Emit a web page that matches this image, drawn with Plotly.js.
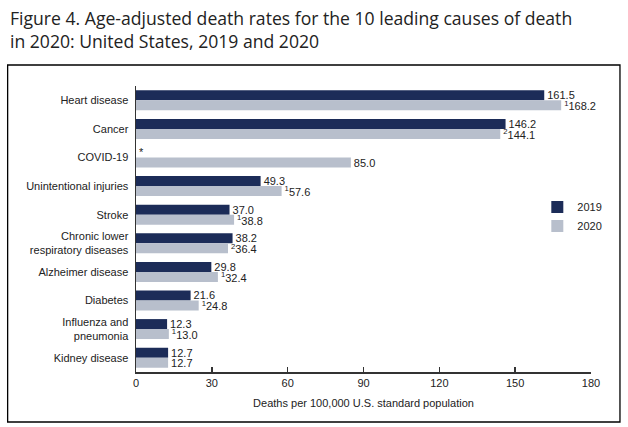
<!DOCTYPE html>
<html>
<head>
<meta charset="utf-8">
<script src="https://cdn.plot.ly/plotly-3.0.1.min.js"></script>
<style>html,body{margin:0;padding:0;background:#fff;}#chart{width:628px;height:427px;}</style>
</head>
<body>
<div id="chart"></div>
<script>
const categories = ["Heart disease","Cancer","COVID-19","Unintentional injuries","Stroke","Chronic lower<br>respiratory diseases","Alzheimer disease","Diabetes","Influenza and<br>pneumonia","Kidney disease"];
const rates2019 = [161.5, 146.2, 0, 49.3, 37.0, 38.2, 29.8, 21.6, 12.3, 12.7];
const labels2019 = ["161.5","146.2","*","49.3","37.0","38.2","29.8","21.6","12.3","12.7"];
const rates2020 = [168.2, 144.1, 85.0, 57.6, 38.8, 36.4, 32.4, 24.8, 13.0, 12.7];
const notes2020 = ["1","2","","1","1","2","1","1","1",""];
const labels2020 = rates2020.map((v,i)=> (notes2020[i] ? "<sup>"+notes2020[i]+"</sup>" : "") + v.toFixed(1));
const xTicks = [0,30,60,90,120,150,180];

const textFont = {family:"Liberation Sans, Arial, sans-serif", size:11, color:"#222"};
const data = [
  {type:"bar", orientation:"h", name:"2019", y:categories, x:rates2019, text:labels2019,
   textposition:"outside", constraintext:"none", textfont:textFont, cliponaxis:false, marker:{color:"#1c2c58"}, hoverinfo:"none"},
  {type:"bar", orientation:"h", name:"2020", y:categories, x:rates2020, text:labels2020,
   textposition:"outside", constraintext:"none", textfont:textFont, cliponaxis:false, marker:{color:"#b8bfcc"}, hoverinfo:"none"}
];
const layout = {
  width:628, height:427,
  margin:{l:135.5, r:37, t:86, b:55},
  paper_bgcolor:"#fff", plot_bgcolor:"#fff",
  barmode:"group", bargap:0.3, bargroupgap:0,
  showlegend:true,
  legend:{x:0.882, y:0.628, xanchor:"left", yanchor:"top", font:textFont, bgcolor:"rgba(0,0,0,0)", itemwidth:30, tracegroupgap:0},
  xaxis:{range:[0,180], tickvals:xTicks, ticktext:xTicks.map(String), ticks:"inside", ticklen:5, tickwidth:1.5, tickcolor:"#333",
         showline:true, linecolor:"#333", linewidth:1.5, showgrid:false, zeroline:false,
         tickfont:textFont, title:{text:"Deaths per 100,000 U.S. standard population", font:textFont, standoff:11}},
  yaxis:{autorange:"reversed", showline:true, linecolor:"#333", linewidth:1.5, ticks:"", showgrid:false,
         tickfont:textFont, ticklabelstandoff:4},
  annotations:[{text:"Figure 4. Age-adjusted death rates for the 10 leading causes of death<br>in 2020: United States, 2019 and 2020",
         xref:"paper", yref:"paper", x:(7-135.5)/455.5, y:(372-4)/286, xanchor:"left", yanchor:"top", align:"left",
         showarrow:false, font:{family:"Open Sans, sans-serif", size:17.6, color:"#222"}}],
  shapes:[{type:"rect", xref:"paper", yref:"paper",
           x0:(7-135.5)/455.5, x1:(620-135.5)/455.5, y0:(372-422)/286, y1:(372-65)/286,
           line:{color:"#000", width:1.3}, fillcolor:"rgba(0,0,0,0)"}]
};
Plotly.newPlot("chart", data, layout, {staticPlot:true});
</script>
</body>
</html>
